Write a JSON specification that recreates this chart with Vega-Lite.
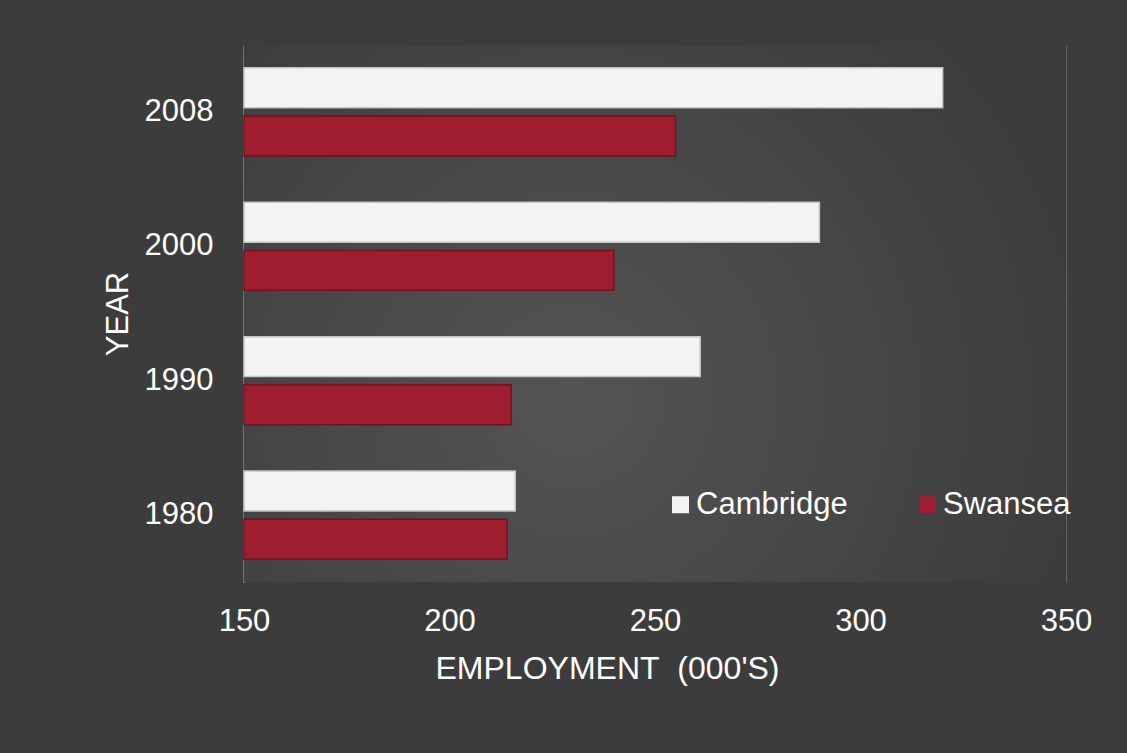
{
  "$schema": "https://vega.github.io/schema/vega-lite/v6.json",
  "width": 822,
  "height": 537,
  "autosize": {"type": "none"},
  "padding": {"left": 244, "top": 45, "right": 61, "bottom": 171},
  "background": "#3c3c3c",
  "config": {
    "view": {"stroke": null},
    "font": "Liberation Sans",
    "axis": {"labelColor": "#ffffff", "titleColor": "#ffffff", "labelFont": "Liberation Sans", "titleFont": "Liberation Sans"}
  },
  "layer": [
    {
      "data": {"values": [{}]},
      "mark": {
        "type": "rect",
        "color": {
          "gradient": "radial",
          "x1": 0.4, "y1": 0.6, "r1": 0,
          "x2": 0.4, "y2": 0.6, "r2": 0.62,
          "stops": [
            {"offset": 0, "color": "#545454"},
            {"offset": 1, "color": "#3c3c3c"}
          ]
        }
      },
      "encoding": {
        "x": {"datum": 150, "type": "quantitative"},
        "x2": {"datum": 350}
      }
    },
    {
      "data": {
        "values": [
          {"year": "2008", "city": "Cambridge", "employment": 320},
          {"year": "2008", "city": "Swansea", "employment": 255},
          {"year": "2000", "city": "Cambridge", "employment": 290},
          {"year": "2000", "city": "Swansea", "employment": 240},
          {"year": "1990", "city": "Cambridge", "employment": 261},
          {"year": "1990", "city": "Swansea", "employment": 215},
          {"year": "1980", "city": "Cambridge", "employment": 216},
          {"year": "1980", "city": "Swansea", "employment": 214}
        ]
      },
      "mark": {"type": "bar", "strokeWidth": 1.5},
      "encoding": {
        "y": {
          "field": "year",
          "type": "nominal",
          "sort": ["2008", "2000", "1990", "1980"],
          "scale": {"paddingInner": 0.345, "paddingOuter": 0.17},
          "axis": {
            "title": "YEAR",
            "titleFontSize": 31,
            "titleFontWeight": "normal",
            "titlePadding": 10,
            "labelFontSize": 31,
            "labelPadding": 31,
            "ticks": false,
            "domain": true,
            "domainColor": "#a6a6a6",
            "domainWidth": 2,
            "grid": false
          }
        },
        "yOffset": {
          "field": "city",
          "sort": ["Cambridge", "Swansea"],
          "scale": {"paddingInner": 0.17, "paddingOuter": 0}
        },
        "x": {
          "field": "employment",
          "type": "quantitative",
          "scale": {"domain": [150, 350], "zero": false, "nice": false},
          "axis": {
            "title": "EMPLOYMENT\u00a0 (000'S)",
            "titleFontSize": 32,
            "titleFontWeight": "normal",
            "titleX": 363,
            "titleY": 86,
            "titleBaseline": "middle",
            "titleAnchor": "middle",
            "values": [150, 200, 250, 300, 350],
            "labelFontSize": 31,
            "labelPadding": 24,
            "labelFlush": false,
            "ticks": false,
            "domain": false,
            "grid": true,
            "gridColor": "#636363",
            "gridWidth": 1.2
          }
        },
        "x2": {"datum": 150},
        "color": {
          "field": "city",
          "type": "nominal",
          "scale": {"domain": ["Cambridge", "Swansea"], "range": ["#f3f3f3", "#9e1e2f"]},
          "legend": {
            "title": null,
            "orient": "none",
            "direction": "horizontal",
            "legendX": 421,
            "legendY": 444,
            "padding": 0,
            "symbolType": "square",
            "symbolSize": 289,
            "symbolStrokeWidth": 0,
            "symbolOpacity": 1,
            "labelFontSize": 31,
            "labelColor": "#ffffff",
            "labelOffset": 0,
            "columnPadding": 64
          }
        },
        "stroke": {
          "field": "city",
          "type": "nominal",
          "scale": {"domain": ["Cambridge", "Swansea"], "range": ["#c4c4c4", "#741221"]},
          "legend": null
        }
      }
    }
  ]
}
